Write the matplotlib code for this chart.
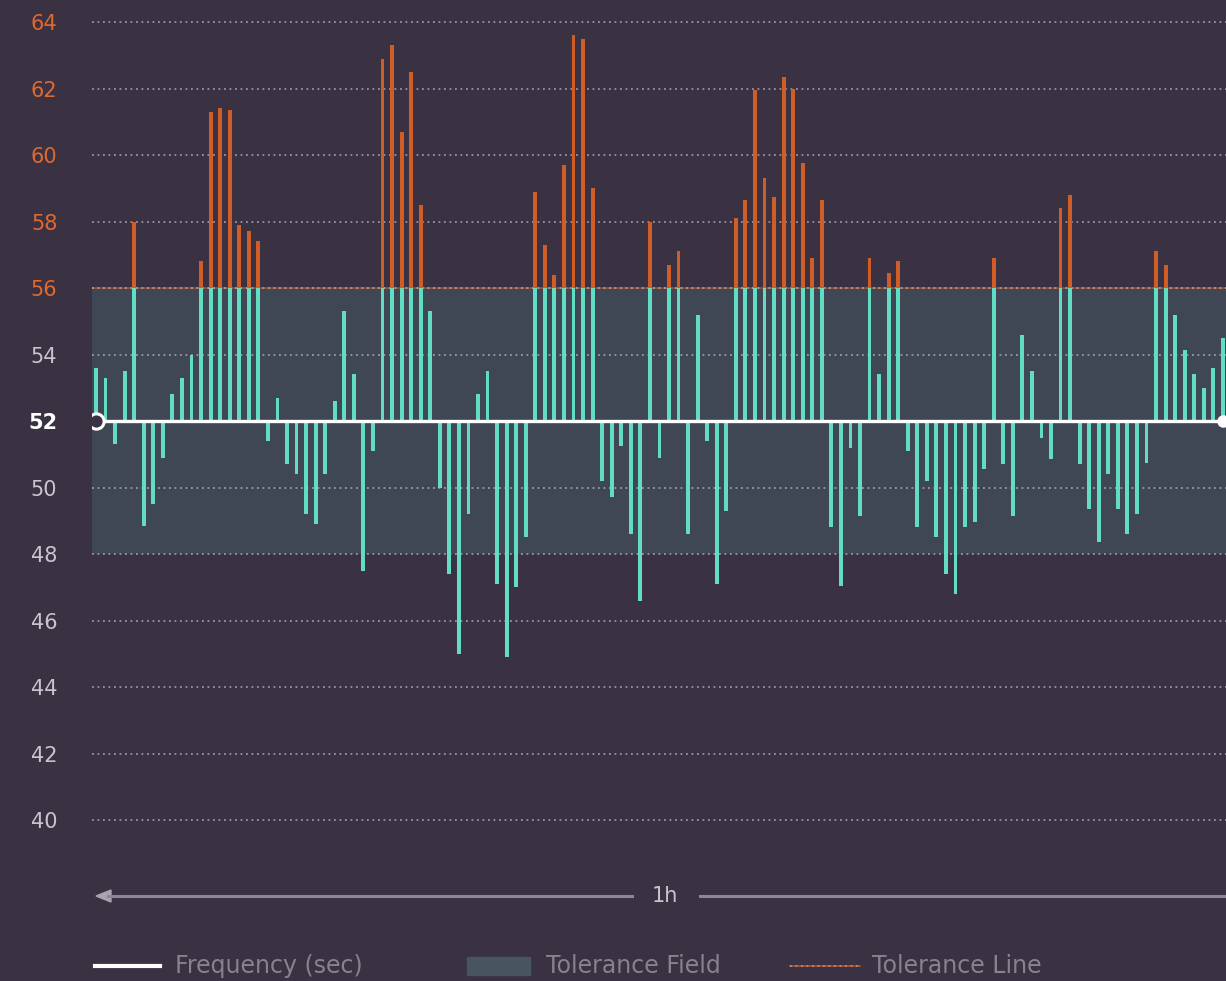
import matplotlib
matplotlib.use("Agg")
import matplotlib.pyplot as plt
from matplotlib.lines import Line2D
from matplotlib.patches import Polygon, Rectangle

# ---- data ----
baseline = 52
tol_low, tol_high = 48, 56
yticks = [40, 42, 44, 46, 48, 50, 52, 54, 56, 58, 60, 62, 64]
values = [
    53.6, 53.3, 51.3, 53.5, 58.0, 48.85, 49.5, 50.9, 52.8, 53.3,
    54.0, 56.8, 61.3, 61.4, 61.35, 57.9, 57.7, 57.4, 51.4, 52.7,
    50.7, 50.4, 49.2, 48.9, 50.4, 52.6, 55.3, 53.4, 47.5, 51.1,
    62.9, 63.3, 60.7, 62.5, 58.5, 55.3, 50.0, 47.4, 45.0, 49.2,
    52.8, 53.5, 47.1, 44.9, 47.0, 48.5, 58.9, 57.3, 56.4, 59.7,
    63.6, 63.5, 59.0, 50.2, 49.7, 51.25, 48.6, 46.6, 58.0, 50.9,
    56.7, 57.1, 48.6, 55.2, 51.4, 47.1, 49.3, 58.1, 58.65, 61.95,
    59.3, 58.75, 62.35, 62.0, 59.75, 56.9, 58.65, 48.8, 47.05, 51.2,
    49.15, 56.9, 53.4, 56.45, 56.8, 51.1, 48.8, 50.2, 48.5, 47.4,
    46.8, 48.8, 48.95, 50.55, 56.9, 50.7, 49.15, 54.6, 53.5, 51.5,
    50.85, 58.4, 58.8, 50.7, 49.35, 48.35, 50.4, 49.35, 48.6, 49.2,
    50.75, 57.1, 56.7, 55.2, 54.15, 53.4, 53.0, 53.6, 54.5,
]
legend_labels = ["Frequency (sec)", "Tolerance Field", "Tolerance Line"]
span_label = "1h"

# ---- style ----
BG = "#3a3142"
FIELD = "#3e4753"
TEAL = "#63dcc4"
ORANGE = "#cf5e26"
ORANGE_TXT = "#e0692e"
GRID = "#cfcad6"
LABEL = "#c9c4cf"
LEG_TXT = "#88828f"

W, H = 1226, 981
fig = plt.figure(figsize=(W / 100, H / 100), dpi=100, facecolor=BG)
ax = fig.add_axes([92 / W, 131 / H, (W - 92) / W, 850 / H])
ax.set_facecolor(BG)
for s in ax.spines.values():
    s.set_visible(False)

px_per_bar = 9.55
ax.set_xlim(-4 / px_per_bar, (W - 96) / px_per_bar)
ax.set_ylim(40 - 30 / 33.25, 64 + 22 / 33.25)

# tolerance field
ax.axhspan(tol_low, tol_high, color=FIELD, zorder=0, lw=0)

# grid lines
for y in yticks:
    if y == tol_high:
        ax.axhline(y, color=ORANGE, lw=1.2, alpha=0.65, zorder=1)
    ax.axhline(y, color=GRID, lw=1.1, ls=(0, (1.2, 2.4)), alpha=0.75, zorder=1)

# bars
x = list(range(len(values)))
bw = 0.40
for i, v in zip(x, values):
    if v >= baseline:
        top_t = min(v, tol_high)
        ax.bar(i, top_t - baseline, bottom=baseline, width=bw, color=TEAL, lw=0, zorder=2)
        if v > tol_high:
            ax.bar(i, v - tol_high, bottom=tol_high, width=bw, color=ORANGE, lw=0, zorder=2)
    else:
        ax.bar(i, baseline - v, bottom=v, width=bw, color=TEAL, lw=0, zorder=2)

# frequency baseline
ax.plot([0, len(values) - 1], [baseline, baseline], color="white", lw=2.4, zorder=3,
        solid_capstyle="butt")
ax.plot([0], [baseline], "o", ms=11, mfc=BG, mec="white", mew=2.2, zorder=4)
ax.plot([len(values) - 1], [baseline], "o", ms=8, color="white", zorder=4, clip_on=False)

# y ticks
ax.set_xticks([])
ax.set_yticks(yticks)
ax.set_yticklabels([str(t) for t in yticks])
ax.tick_params(axis="y", length=0, pad=25, labelsize=15)
for t, lab in zip(yticks, ax.get_yticklabels()):
    if t >= tol_high:
        lab.set_color(ORANGE_TXT)
    elif t == baseline:
        lab.set_color("white")
        lab.set_fontweight("bold")
    else:
        lab.set_color(LABEL)


def fx(px):
    return px / W


def fy(py):
    return 1 - py / H


# time span arrow
ay = 896
fig.add_artist(Line2D([fx(108), fx(632)], [fy(ay), fy(ay)], color="#8c8696", lw=2.2))
fig.add_artist(Line2D([fx(700), fx(1226)], [fy(ay), fy(ay)], color="#8c8696", lw=2.2))
fig.add_artist(Polygon([(fx(96), fy(ay)), (fx(111), fy(ay - 6)), (fx(111), fy(ay + 6))],
                       closed=True, color="#a9a3b1", transform=fig.transFigure))
fig.text(fx(665), fy(ay), span_label, color=LABEL, fontsize=15, ha="center", va="center")

# legend
ly = 966
fig.add_artist(Line2D([fx(95), fx(160)], [fy(ly), fy(ly)], color="white", lw=3))
fig.text(fx(175), fy(ly), legend_labels[0], color=LEG_TXT, fontsize=17, va="center")
fig.add_artist(Rectangle((fx(467), fy(ly + 9)), fx(530) - fx(467), (18 / H),
                         color="#46555f", transform=fig.transFigure))
fig.text(fx(546), fy(ly), legend_labels[1], color=LEG_TXT, fontsize=17, va="center")
fig.add_artist(Line2D([fx(790), fx(860)], [fy(ly), fy(ly)], color=ORANGE, lw=1.2, alpha=0.8))
fig.add_artist(Line2D([fx(790), fx(860)], [fy(ly), fy(ly)], color=GRID, lw=1.1,
                      ls=(0, (1.2, 2.4)), alpha=0.6))
fig.text(fx(872), fy(ly), legend_labels[2], color=LEG_TXT, fontsize=17, va="center")

fig.savefig("out.png", dpi=100, facecolor=BG)
